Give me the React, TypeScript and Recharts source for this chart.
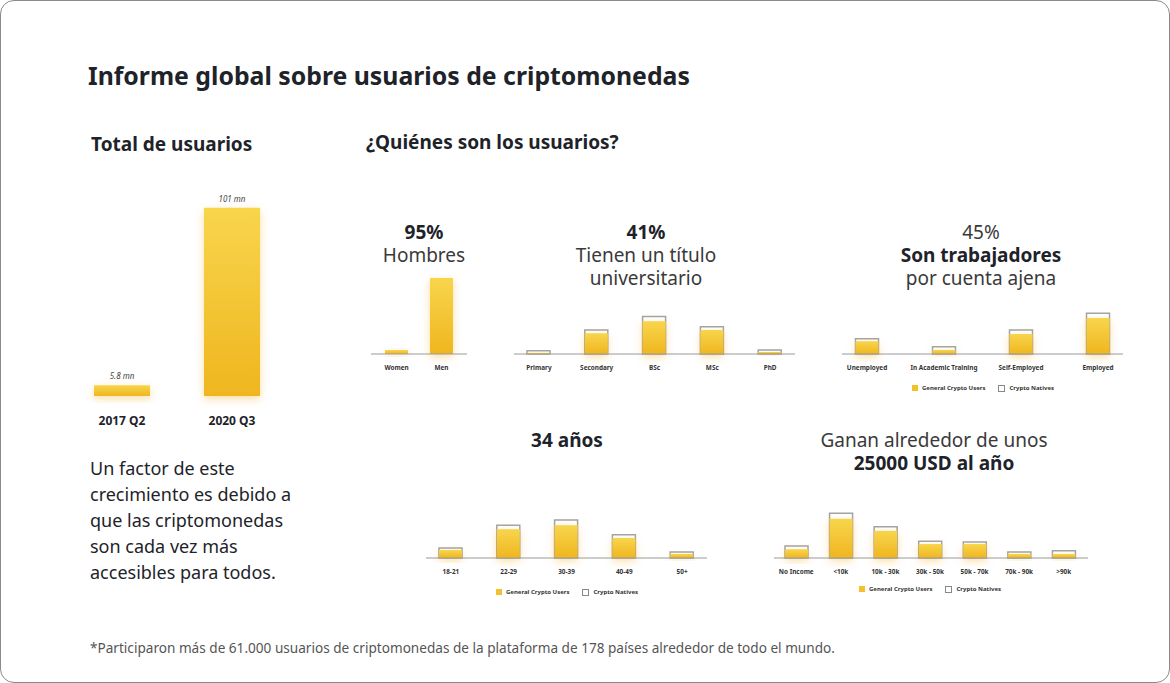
import React from "react";
import { BarChart, Bar, XAxis, YAxis, LabelList } from "recharts";

const FONT = "'Noto Sans', sans-serif";

// total users
const totalCats = ["2017 Q2", "2020 Q3"];
const totalValues = [5.8, 101];
const totalLabels = ["5.8 mn", "101 mn"];

// gender
const genderCats = ["Women", "Men"];
const genderValues = [5, 95];

// education
const eduCats = ["Primary", "Secondary", "BSc", "MSc", "PhD"];
const eduGeneral = [1.5, 26, 41, 30, 2.5];
const eduNatives = [4, 30, 47, 34, 5];

// employment
const jobCats = ["Unemployed", "In Academic Training", "Self-Employed", "Employed"];
const jobGeneral = [16, 5, 25, 45];
const jobNatives = [19, 9, 30, 51];

// age
const ageCats = ["18-21", "22-29", "30-39", "40-49", "50+"];
const ageGeneral = [10, 36, 41, 25, 5];
const ageNatives = [12.5, 41, 47.5, 29, 7.5];

// income
const incomeCats = ["No Income", "<10k", "10k - 30k", "30k - 50k", "50k - 70k", "70k - 90k", ">90k"];
const incomeGeneral = [11, 49, 34, 17.5, 17.5, 5, 5];
const incomeNatives = [15, 56, 39, 21, 20, 7.5, 9];

const tickStyle = { fontSize: 6.4, fontWeight: 700, fill: "#333", fontFamily: FONT };
const DARK = "#1e2329";
const SOFT = "#3a3a3a";

function Txt({ x, y, size = 19, weight = 400, center = false, color = DARK, children }: any) {
  const lh = Math.round(size * 1.1);
  return (
    <div
      style={{
        position: "absolute",
        left: center ? x - 250 : x,
        width: center ? 500 : undefined,
        top: y - lh / 2,
        lineHeight: lh + "px",
        fontSize: size,
        fontWeight: weight,
        color,
        textAlign: center ? "center" : "left",
        whiteSpace: "nowrap",
      }}
    >
      {children}
    </div>
  );
}

// multi-line heading, one block, 23px line spacing
function Heading({ cx, y, lines }: any) {
  return (
    <div
      style={{
        position: "absolute",
        left: cx - 250,
        width: 500,
        top: y - 11.5,
        lineHeight: "23px",
        fontSize: 19,
        textAlign: "center",
        whiteSpace: "nowrap",
      }}
    >
      {lines.map((l: any, i: number) => (
        <div key={i} style={{ fontWeight: l.bold ? 700 : 400, color: l.bold ? DARK : SOFT }}>
          {l.text}
        </div>
      ))}
    </div>
  );
}

function Legend2({ cx, cy }: any) {
  return (
    <div
      style={{
        position: "absolute",
        left: cx - 100,
        width: 200,
        top: cy - 6,
        height: 12,
        display: "flex",
        justifyContent: "center",
        alignItems: "center",
        fontSize: 6,
        fontWeight: 700,
        color: "#333",
      }}
    >
      <span style={{ width: 6, height: 6, background: "#f3c12b", marginRight: 4 }} />
      <span>General Crypto Users</span>
      <span style={{ width: 5, height: 5, border: "1px solid #888", marginLeft: 13, marginRight: 4 }} />
      <span>Crypto Natives</span>
    </div>
  );
}

function SmallBars({ cats, general, natives, left, width, baseline, pad }: any) {
  const data = cats.map((c: string, i: number) => ({
    cat: c,
    general: general[i],
    natives: natives ? natives[i] : undefined,
  }));
  const padding = { left: pad[0], right: pad[1] };
  return (
    <div style={{ position: "absolute", left, top: baseline - 80 }}>
      <BarChart width={width} height={110} data={data} margin={{ top: 0, right: 0, bottom: 0, left: 0 }}>
        <YAxis hide domain={[0, 100]} />
        <XAxis
          xAxisId="g"
          dataKey="cat"
          height={30}
          interval={0}
          padding={padding}
          tickLine={false}
          tickMargin={5}
          axisLine={{ stroke: "#9a9a9a", strokeWidth: 1.2 }}
          tick={tickStyle}
        />
        <XAxis xAxisId="n" dataKey="cat" hide padding={padding} />
        {natives && (
          <Bar
            xAxisId="n"
            dataKey="natives"
            barSize={23}
            fill="#ffffff"
            stroke="#a3a3a3"
            strokeWidth={1.5}
            isAnimationActive={false}
          />
        )}
        <Bar
          xAxisId="g"
          dataKey="general"
          barSize={23}
          fill="url(#yellowGrad)"
          filter="url(#glow)"
          isAnimationActive={false}
        />
      </BarChart>
    </div>
  );
}

export default function App() {
  const totalData = totalCats.map((c, i) => ({ cat: c, value: totalValues[i], label: totalLabels[i] }));

  return (
    <div
      style={{
        position: "absolute",
        left: 0,
        top: 0,
        width: 1170,
        height: 683,
        boxSizing: "border-box",
        border: "1px solid #8a8a8a",
        borderRadius: 14,
        background: "#fff",
        fontFamily: FONT,
        overflow: "hidden",
      }}
    >
      <svg width={0} height={0} style={{ position: "absolute" }}>
        <defs>
          <linearGradient id="yellowGrad" x1="0" y1="0" x2="0" y2="1">
            <stop offset="0%" stopColor="#f8d54c" />
            <stop offset="100%" stopColor="#efb61f" />
          </linearGradient>
          <filter id="glow" x="-60%" y="-60%" width="220%" height="220%">
            <feDropShadow dx="0" dy="3" stdDeviation="4" floodColor="#f2a000" floodOpacity="0.35" />
          </filter>
        </defs>
      </svg>

      <Txt x={87} y={74} size={24.8} weight={700}>Informe global sobre usuarios de criptomonedas</Txt>
      <Txt x={90} y={143} size={19} weight={700}>Total de usuarios</Txt>
      <Txt x={365} y={141} size={19} weight={700}>¿Quiénes son los usuarios?</Txt>

      {/* total users */}
      <div style={{ position: "absolute", left: 66, top: 190 }}>
        <BarChart width={220} height={245} data={totalData} margin={{ top: 0, right: 0, bottom: 0, left: 0 }}>
          <YAxis hide domain={[0, 110]} />
          <XAxis
            dataKey="cat"
            height={40}
            axisLine={false}
            tickLine={false}
            tickMargin={14}
            tick={{ fontSize: 12, fontWeight: 700, fill: DARK, fontFamily: FONT }}
          />
          <Bar dataKey="value" barSize={56} fill="url(#yellowGrad)" filter="url(#glow)" isAnimationActive={false}>
            <LabelList
              dataKey="label"
              position="top"
              offset={6}
              style={{ fontSize: 8, fontStyle: "italic", fill: "#444", fontFamily: FONT }}
            />
          </Bar>
        </BarChart>
      </div>

      <div style={{ position: "absolute", left: 89, top: 454, fontSize: 18, lineHeight: "26px", color: DARK }}>
        Un factor de este<br />
        crecimiento es debido a<br />
        que las criptomonedas<br />
        son cada vez más<br />
        accesibles para todos.
      </div>

      {/* gender */}
      <Heading cx={423} y={231} lines={[{ text: "95%", bold: true }, { text: "Hombres" }]} />
      <SmallBars cats={genderCats} general={genderValues} left={370} width={96} baseline={353} pad={[3, 3]} />

      {/* education */}
      <Heading
        cx={645}
        y={231}
        lines={[{ text: "41%", bold: true }, { text: "Tienen un título" }, { text: "universitario" }]}
      />
      <SmallBars cats={eduCats} general={eduGeneral} natives={eduNatives} left={513} width={281} baseline={353} pad={[-4, -4]} />

      {/* employment */}
      <Heading
        cx={980}
        y={231}
        lines={[{ text: "45%" }, { text: "Son trabajadores", bold: true }, { text: "por cuenta ajena" }]}
      />
      <SmallBars cats={jobCats} general={jobGeneral} natives={jobNatives} left={841} width={281} baseline={353} pad={[-13.5, -13.5]} />
      <Legend2 cx={982} cy={387} />

      {/* age */}
      <Heading cx={566} y={439} lines={[{ text: "34 años", bold: true }]} />
      <SmallBars cats={ageCats} general={ageGeneral} natives={ageNatives} left={425} width={281} baseline={557} pad={[-4, -4]} />
      <Legend2 cx={566} cy={591} />

      {/* income */}
      <Heading
        cx={933}
        y={439}
        lines={[{ text: "Ganan alrededor de unos" }, { text: "25000 USD al año", bold: true }]}
      />
      <SmallBars cats={incomeCats} general={incomeGeneral} natives={incomeNatives} left={773} width={314} baseline={557} pad={[0, 2]} />
      <Legend2 cx={929} cy={588} />

      <Txt x={89} y={646} size={13.6} color="#555">
        *Participaron más de 61.000 usuarios de criptomonedas de la plataforma de 178 países alrededor de todo el mundo.
      </Txt>
    </div>
  );
}
